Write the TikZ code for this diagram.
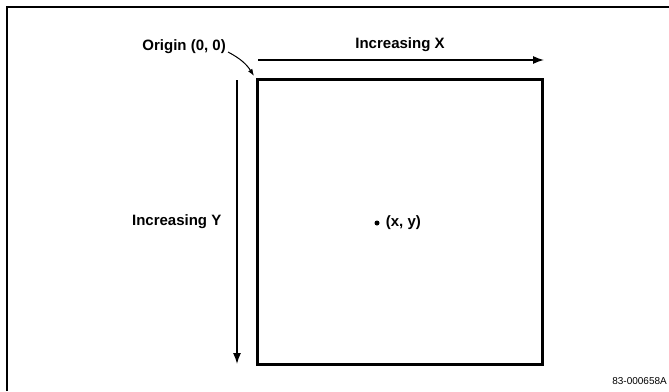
\documentclass[tikz,border=0pt]{standalone}
\usepackage{fontspec}
\setmainfont{Liberation Sans}
\usetikzlibrary{arrows.meta,positioning}

\begin{document}
\begin{tikzpicture}[
    x=1pt,y=-1pt,
    lbl/.style={font=\fontsize{15}{17}\selectfont\bfseries,inner sep=0pt},
    tag/.style={font=\fontsize{10}{12}\selectfont,inner sep=0pt},
    arr/.style={-{Latex[length=11pt,width=8pt]},line width=1.3pt},
    bent/.style={-{Latex[length=7pt,width=5pt]},line width=1pt}
  ]
    \useasboundingbox (0,0) rectangle (669,391);
    % outer frame, only two edges show
    \draw[line width=2pt] (7,391) -- (7,7) -- (669,7);
    \node[draw,line width=3pt,minimum size=285pt,inner sep=0pt] (screen) at (399.5,222) {};
    \coordinate (xstart) at (258,60);
    \coordinate (xend) at (544,60);
    \coordinate (ystart) at (237,80);
    \coordinate (yend) at (237,364);
    \coordinate (corner) at (254,76);
    \node[lbl] (incx) at (400,45) {Increasing X};
    \node[lbl,anchor=east] (origin) at (226,47) {Origin (0, 0)};
    \node[lbl,anchor=east,left=34pt of screen.west] (incy) {Increasing Y};
    \node[circle,fill,inner sep=0pt,minimum size=5pt] (pt) at (377,223) {};
    \node[lbl,anchor=west,right=6pt of pt] (ptlbl) {(x, y)};
    \node[tag,anchor=east] (fig) at (667,381) {83-000658A};
    \draw[arr] (xstart) -- (xend);
    \draw[arr] (ystart) -- (yend);
    \draw[bent] ([shift={(2pt,-5pt)}]origin.east) to[bend left=15] (corner);
\end{tikzpicture}
\end{document}
